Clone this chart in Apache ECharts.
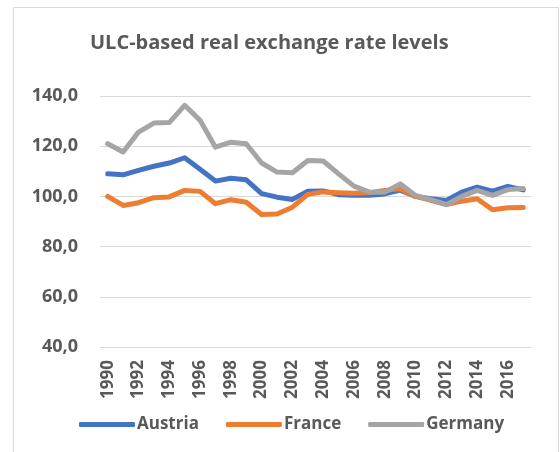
<!DOCTYPE html>
<html>
<head>
<meta charset="utf-8">
<style>
  html, body { margin: 0; padding: 0; background: #fff; }
  #main { width: 560px; height: 452px; }
</style>
<script src="https://cdn.jsdelivr.net/npm/echarts@6/dist/echarts.min.js"></script>
</head>
<body>
<div id="main"></div>
<script>
var years = ['1990', '1991', '1992', '1993', '1994', '1995', '1996', '1997', '1998', '1999',
             '2000', '2001', '2002', '2003', '2004', '2005', '2006', '2007', '2008', '2009',
             '2010', '2011', '2012', '2013', '2014', '2015', '2016', '2017'];
var austria = [109.0, 108.6, 110.4, 112.0, 113.3, 115.4, 110.8, 106.1, 107.2, 106.6,
               101.1, 99.7, 98.8, 102.1, 102.2, 100.7, 100.5, 100.5, 101.0, 102.5,
               100.0, 99.1, 98.4, 101.7, 103.7, 102.1, 104.0, 102.6];
var france = [100.0, 96.4, 97.5, 99.5, 99.8, 102.4, 102.0, 97.1, 98.7, 97.7,
              92.8, 93.0, 95.7, 100.8, 101.8, 101.5, 101.3, 101.5, 102.4, 103.0,
              100.0, 98.4, 96.7, 98.1, 99.1, 94.7, 95.5, 95.6];
var germany = [121.0, 117.7, 125.6, 129.2, 129.4, 136.3, 130.3, 119.6, 121.6, 121.0,
               113.3, 109.7, 109.4, 114.3, 114.1, 109.0, 104.1, 101.7, 101.7, 105.0,
               100.4, 98.7, 96.7, 100.0, 102.4, 100.4, 102.7, 103.1];

var textColor = '#595959';
var fontFam = '"Open Sans", sans-serif';

var myChart = echarts.init(document.getElementById('main'));
var option = {
    animation: false,
    backgroundColor: '#fff',
    graphic: [{
        type: 'rect',
        shape: { x: 13.5, y: 7.5, width: 545, height: 460 },
        style: { fill: 'none', stroke: '#d9d9d9', lineWidth: 1 },
        silent: true
    }],
    title: {
        text: 'ULC-based real exchange rate levels',
        left: 85,
        top: 28,
        textStyle: { color: textColor, fontFamily: fontFam, fontSize: 20, fontWeight: 'bold' }
    },
    legend: {
        left: 74,
        top: 411,
        itemGap: 27,
        itemWidth: 56,
        itemHeight: 5,
        icon: 'roundRect',
        textStyle: { color: textColor, fontFamily: fontFam, fontSize: 17, fontWeight: 'bold', padding: [0, 0, 0, -3] },
        data: ['Austria', 'France', 'Germany']
    },
    grid: { left: 100, right: 29, top: 96, bottom: 105 },
    xAxis: {
        type: 'category',
        data: years,
        boundaryGap: true,
        axisLine: { show: true, lineStyle: { color: '#d9d9d9' } },
        axisTick: { show: false },
        axisLabel: {
            interval: 1,
            rotate: 90,
            margin: 13,
            color: textColor,
            fontFamily: fontFam,
            fontSize: 17,
            fontWeight: 'bold'
        }
    },
    yAxis: {
        type: 'value',
        min: 40,
        max: 140,
        interval: 20,
        axisLine: { show: false },
        axisTick: { show: false },
        splitLine: { lineStyle: { color: '#d9d9d9', width: 1 } },
        axisLabel: {
            margin: 22,
            color: textColor,
            fontFamily: fontFam,
            fontSize: 18,
            fontWeight: 'bold',
            formatter: function (v) { return v.toFixed(1).replace('.', ','); }
        }
    },
    series: [
        { name: 'Austria', type: 'line', data: austria, showSymbol: false, symbol: 'none',
          itemStyle: { color: '#4472C4' }, lineStyle: { width: 5, color: '#4472C4', cap: 'round', join: 'round' } },
        { name: 'France', type: 'line', data: france, showSymbol: false, symbol: 'none',
          itemStyle: { color: '#ED7D31' }, lineStyle: { width: 5, color: '#ED7D31', cap: 'round', join: 'round' } },
        { name: 'Germany', type: 'line', data: germany, showSymbol: false, symbol: 'none',
          itemStyle: { color: '#A5A5A5' }, lineStyle: { width: 5, color: '#A5A5A5', cap: 'round', join: 'round' } }
    ]
};
myChart.setOption(option);
</script>
</body>
</html>
